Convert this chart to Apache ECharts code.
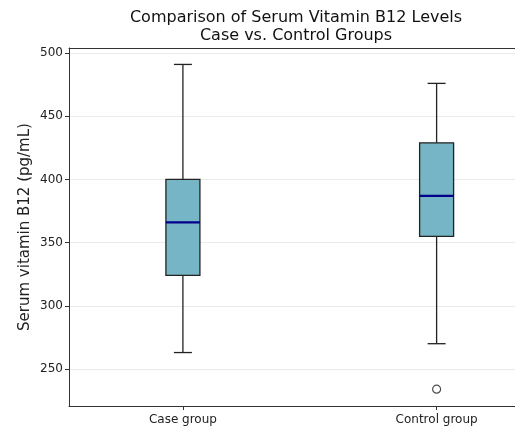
<!DOCTYPE html>
<html><head><meta charset="utf-8">
<script src="https://cdn.jsdelivr.net/npm/echarts@6/dist/echarts.min.js"></script>
<style>html,body{margin:0;padding:0;background:#fff}#c{width:515px;height:428px}</style>
</head><body><div id="c"></div>
<script>
const categories = ['Case group', 'Control group'];
const positions = [1, 2];
const whiskerLow = [263, 270];
const q1 = [324, 355];
const median = [366, 387];
const q3 = [400, 429];
const whiskerHigh = [491, 476];
const outliers = [[2, 234]];
const yTicks = [250, 300, 350, 400, 450, 500];

const boxData = positions.map((p, i) => [p, whiskerLow[i], q1[i], median[i], q3[i], whiskerHigh[i]]);

const chart = echarts.init(document.getElementById('c'), null, {renderer: 'canvas'});
const font = 'DejaVu Sans';
const xMin = 0.551, xMax = 2.309;
chart.setOption({
  animation: false,
  backgroundColor: '#fff',
  title: {
    text: 'Comparison of Serum Vitamin B12 Levels\nCase vs. Control Groups',
    left: 291, top: 4, textAlign: 'center',
    textStyle: {fontFamily: font, fontSize: 16, fontWeight: 'normal', color: '#111', lineHeight: 18}
  },
  grid: {left: 69, right: 0, top: 48, bottom: 22},
  xAxis: [{
    type: 'value', min: xMin, max: xMax,
    axisLine: {show: true, lineStyle: {color: '#333'}},
    splitLine: {show: false},
    axisTick: {show: true, customValues: positions, length: 4, lineStyle: {color: '#333'}},
    axisLabel: {customValues: positions, formatter: v => categories[positions.indexOf(Math.round(v))] || '', fontFamily: font, fontSize: 12, color: '#222', margin: 8}
  }, {
    type: 'value', position: 'top', min: xMin, max: xMax,
    axisLine: {show: true, lineStyle: {color: '#333'}},
    axisTick: {show: false}, axisLabel: {show: false}, splitLine: {show: false}
  }],
  yAxis: {
    type: 'value', min: 220.7, max: 504,
    name: 'Serum vitamin B12 (pg/mL)', nameLocation: 'middle', nameGap: 36, nameMoveOverlap: false,
    nameTextStyle: {fontFamily: font, fontSize: 15, color: '#222'},
    axisLine: {show: true, lineStyle: {color: '#333'}},
    axisTick: {show: true, customValues: yTicks, length: 4, lineStyle: {color: '#333'}},
    axisLabel: {customValues: yTicks, fontFamily: font, fontSize: 12, color: '#222', margin: 6},
    splitLine: {show: true, lineStyle: {color: '#ebebeb', width: 1}}
  },
  series: [{
    type: 'custom',
    data: boxData,
    renderItem: function (params, api) {
      const x = api.value(0);
      const pLow = api.coord([x, api.value(1)]);
      const pQ1 = api.coord([x, api.value(2)]);
      const pMed = api.coord([x, api.value(3)]);
      const pQ3 = api.coord([x, api.value(4)]);
      const pHigh = api.coord([x, api.value(5)]);
      const bw = 34, cw = 18, cx = pMed[0];
      const edge = {stroke: '#222', lineWidth: 1.3};
      return {type: 'group', children: [
        {type: 'line', shape: {x1: cx, y1: pQ3[1], x2: cx, y2: pHigh[1]}, style: edge},
        {type: 'line', shape: {x1: cx, y1: pQ1[1], x2: cx, y2: pLow[1]}, style: edge},
        {type: 'line', shape: {x1: cx - cw / 2, y1: pHigh[1], x2: cx + cw / 2, y2: pHigh[1]}, style: edge},
        {type: 'line', shape: {x1: cx - cw / 2, y1: pLow[1], x2: cx + cw / 2, y2: pLow[1]}, style: edge},
        {type: 'rect', shape: {x: cx - bw / 2, y: pQ3[1], width: bw, height: pQ1[1] - pQ3[1]}, style: {fill: '#76b5c5', stroke: '#222', lineWidth: 1.3}},
        {type: 'line', shape: {x1: cx - bw / 2, y1: pMed[1], x2: cx + bw / 2, y2: pMed[1]}, style: {stroke: '#00008b', lineWidth: 2.2}}
      ]};
    }
  }, {
    type: 'scatter',
    data: outliers,
    symbol: 'circle', symbolSize: 8,
    itemStyle: {color: '#fff', borderColor: '#222', borderWidth: 1.2}
  }]
});
</script></body></html>
